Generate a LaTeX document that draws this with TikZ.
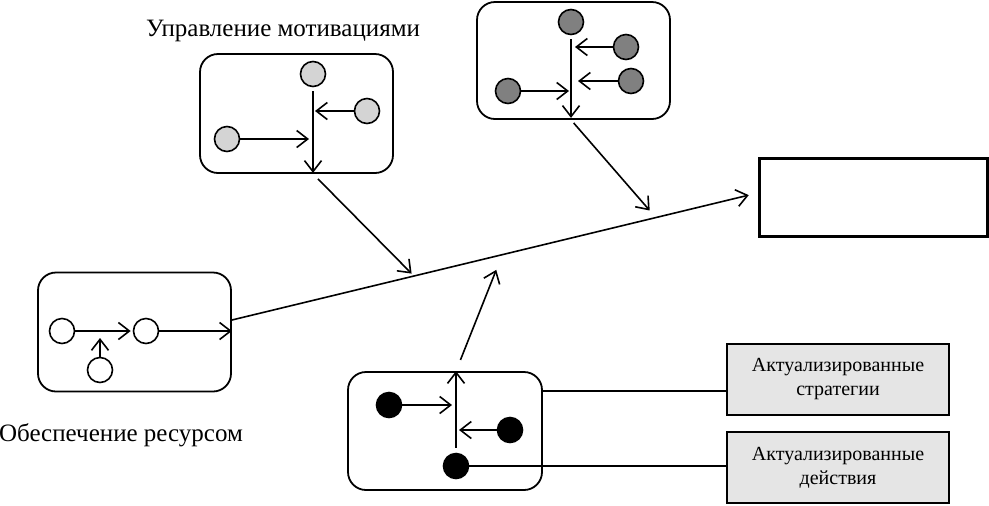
\documentclass[tikz,border=0pt]{standalone}
\usepackage{fontspec}
\setmainfont{Liberation Serif}
\usetikzlibrary{positioning,arrows.meta}

\begin{document}
\begin{tikzpicture}[%
x=0.5pt,y=-0.5pt,
line width=0.8pt,
>={Straight Barb[length=5.5pt,width=8.5pt]},
dot/.style={circle,draw,line width=0.8pt,minimum size=12.5pt,inner sep=0pt},
grp/.style={rectangle,rounded corners=9pt,draw,line width=0.9pt,
minimum width=96.5pt,minimum height=59.5pt},
note/.style={rectangle,draw,line width=1.1pt,fill=black!10,
minimum width=111pt,minimum height=35.5pt,align=center,
font=\fontsize{10}{12}\selectfont},
lbl/.style={font=\fontsize{12.5}{15}\selectfont},
pil/.style={->,shorten >=1pt}
]
\useasboundingbox (0,0) rectangle (989,505);

% resources
\node[grp] (res) at (134.5,332) {};
\node[dot] (r1) at (62,331) {};
\node[dot] (r2) at (146,331) {};
\node[dot] (r3) at (100,370) {};
\draw[pil] (r1) -- (r2);
\draw[pil,shorten >=3.5pt] (r3) -- (r3 |- r1);
\draw[pil,shorten >=0pt] (r2) -- (r2 -| res.east);
\node[lbl] (rl) at (121,435) {Обеспечение ресурсом};

% motivations
\node[grp] (mot) at (296.5,113.5) {};
\node[dot,fill=black!17] (m1) at (313,74) {};
\node[dot,fill=black!17] (m2) at (367,111) {};
\node[dot,fill=black!17] (m3) at (227,139) {};
\coordinate (m0) at (m1 |- mot.south);
\draw[pil,shorten <=2pt,shorten >=0.5pt] (m1) -- (m0);
\draw[pil] (m2) -- (m2 -| m1);
\draw[pil,shorten >=2pt] (m3) -- (m3 -| m1);
\node[lbl] (ml) at (283,31) {Управление мотивациями};

% top group
\node[grp,minimum height=58.5pt] (sit) at (573.5,60.5) {};
\node[dot,fill=black!50] (s1) at (571,22) {};
\node[dot,fill=black!50] (s2) at (626,47) {};
\node[dot,fill=black!50] (s3) at (631,81) {};
\node[dot,fill=black!50] (s4) at (508,91) {};
\coordinate (s0) at (s1 |- sit.south);
\draw[pil,shorten <=2pt,shorten >=1pt] (s1) -- (s0);
\draw[pil,shorten >=2pt] (s2) -- (s2 -| s1);
\draw[pil,shorten >=3.5pt] (s3) -- (s3 -| s1);
\draw[pil] (s4) -- (s4 -| s1);

% bottom group
\node[grp,minimum width=97pt,minimum height=59pt] (bot) at (445,431) {};
\node[dot,fill=black] (b1) at (389,405) {};
\node[dot,fill=black] (b2) at (510,430) {};
\node[dot,fill=black] (b3) at (456,466) {};
\coordinate (b0) at (b3 |- bot.north);
\draw[pil,shorten <=2.5pt,shorten >=0pt] (b3) -- (b0);
\draw[pil,shorten >=2pt] (b1) -- (b1 -| b3);
\draw[pil,shorten >=1.5pt] (b2) -- (b2 -| b3);

% result
\node[rectangle,draw,line width=1.5pt,minimum width=114pt,minimum height=39pt] (tgt) at (873,197) {};
\coordinate (st) at ([yshift=6pt]res.east);
\draw[pil,shorten >=4.5pt] (st) -- ([yshift=2pt]tgt.west);
\coordinate (t1) at (413,275);
\coordinate (t2) at (651,212);
\coordinate (t3) at (497,268);
\draw[pil,shorten <=3.5pt] (m0) -- (t1);
\draw[pil,shorten <=2pt] (s0) -- (t2);
\draw[pil,shorten <=6pt] (b0) -- (t3);

% notes
\node[note] (g1) at (838,379.5) {Актуализированные\\стратегии};
\node[note] (g2) at (838,467.5) {Актуализированные\\действия};
\draw ([yshift=20pt]bot.east) -- ([yshift=20pt]bot.east -| g1.west);
\draw (b3) -- (b3 -| g2.west);
\end{tikzpicture}
\end{document}
